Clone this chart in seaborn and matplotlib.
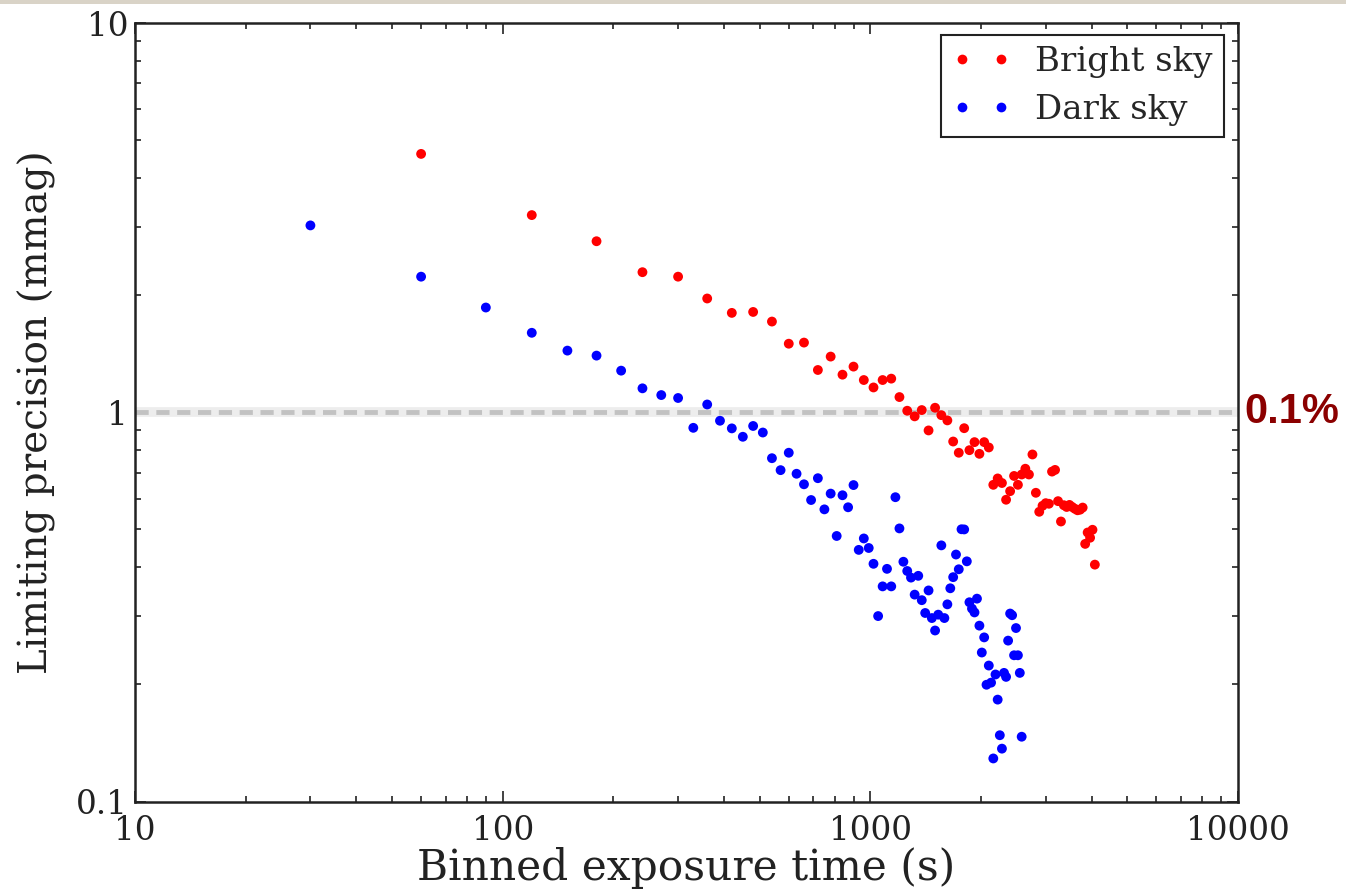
import matplotlib
matplotlib.use("Agg")
import matplotlib.pyplot as plt
import seaborn as sns
import pandas as pd
from matplotlib.lines import Line2D
from matplotlib.patches import Rectangle
from matplotlib.ticker import FixedLocator, FixedFormatter, LogLocator, NullFormatter

# ---------------- data ----------------
bright_time = [60, 120, 180, 240, 300, 360, 420, 480, 540, 600, 660, 720, 780, 840,
               900, 960, 1020, 1080, 1140, 1200, 1260, 1320, 1380, 1440, 1500, 1560,
               1620, 1680, 1740, 1800, 1860, 1920, 1980, 2040, 2100, 2160, 2220, 2280,
               2340, 2400, 2460, 2520, 2580, 2640, 2700, 2760, 2820, 2880, 2940, 3000,
               3060, 3120, 3180, 3240, 3300, 3360, 3420, 3480, 3540, 3600, 3660, 3720,
               3780, 3840, 3900, 3960, 4020, 4080]
bright_prec = [4.61, 3.21, 2.75, 2.29, 2.23, 1.96, 1.80, 1.81, 1.71, 1.50,
               1.51, 1.284, 1.39, 1.249, 1.31, 1.21, 1.158, 1.21, 1.22, 1.094,
               1.009, 0.976, 1.013, 0.898, 1.027, 0.983, 0.953, 0.841, 0.787, 0.910,
               0.799, 0.838, 0.782, 0.838, 0.812, 0.651, 0.676, 0.658, 0.596, 0.627,
               0.686, 0.651, 0.692, 0.716, 0.692, 0.779, 0.621, 0.555, 0.575, 0.584,
               0.582, 0.704, 0.711, 0.591, 0.524, 0.577, 0.571, 0.578, 0.571, 0.565,
               0.560, 0.562, 0.569, 0.459, 0.491, 0.476, 0.499, 0.406]

dark_time = [30, 60, 90, 120, 150, 180, 210, 240, 270, 300, 330, 360, 390, 420, 450,
             480, 510, 540, 570, 600, 630, 660, 690, 720, 750, 780, 810, 840, 870, 900,
             930, 960, 990, 1020, 1050, 1080, 1110, 1140, 1170, 1200, 1230, 1260, 1290,
             1320, 1350, 1380, 1410, 1440, 1470, 1500, 1530, 1560, 1590, 1620, 1650,
             1680, 1710, 1740, 1770, 1800, 1830, 1860, 1890, 1920, 1950, 1980, 2010,
             2040, 2070, 2100, 2130, 2160, 2190, 2220, 2250, 2280, 2310, 2340, 2370,
             2400, 2430, 2460, 2490, 2520, 2550, 2580]
dark_prec = [3.02, 2.23, 1.858, 1.60, 1.44, 1.398, 1.279, 1.152, 1.107, 1.088,
             0.912, 1.047, 0.951, 0.909, 0.865, 0.922, 0.887, 0.762, 0.710, 0.787,
             0.695, 0.653, 0.595, 0.677, 0.563, 0.618, 0.481, 0.612, 0.570, 0.650,
             0.443, 0.474, 0.448, 0.408, 0.2995, 0.357, 0.396, 0.357, 0.605, 0.503,
             0.413, 0.391, 0.376, 0.340, 0.380, 0.329, 0.305, 0.3485, 0.296, 0.275,
             0.302, 0.455, 0.296, 0.321, 0.353, 0.377, 0.431, 0.395, 0.5005, 0.50,
             0.414, 0.325, 0.313, 0.306, 0.332, 0.283, 0.2414, 0.264, 0.1995, 0.2235,
             0.202, 0.129, 0.212, 0.1827, 0.148, 0.1367, 0.214, 0.209, 0.259, 0.304,
             0.301, 0.2375, 0.279, 0.2375, 0.214, 0.1467]

series_names = ["Bright sky", "Dark sky"]
series_colors = ["#ff0000", "#0000ff"]

x_ticks = [10, 100, 1000, 10000]
x_ticklabels = ["10", "100", "1000", "10000"]
y_ticks = [0.1, 1, 10]
y_ticklabels = ["0.1", "1", "10"]
threshold = 1.0
threshold_label = "0.1%"

x_label = "Binned exposure time (s)"
y_label = "Limiting precision (mmag)"

# ---------------- figure ----------------
sns.set_style("ticks")
plt.rcParams["font.family"] = ["DejaVu Serif"]
plt.rcParams["lines.scale_dashes"] = False

fig = plt.figure(figsize=(13.46, 8.91), dpi=100)
fig.patch.set_facecolor("white")
fig.patches.append(Rectangle((0, 1 - 4 / 891), 1, 4 / 891, transform=fig.transFigure,
                             facecolor="#d9d3c7", edgecolor="none", zorder=0))

ax = fig.add_axes([135 / 1346, 1 - 801.5 / 891, (1238 - 135) / 1346, (801.5 - 23) / 891])

df = pd.DataFrame({
    "time": bright_time + dark_time,
    "prec": bright_prec + dark_prec,
    "sky": [series_names[0]] * len(bright_time) + [series_names[1]] * len(dark_time),
})

# threshold line (drawn beneath points)
ax.axhline(threshold, color="#ededed", lw=7, zorder=1)
ax.axhline(threshold, color="#c2c2c2", lw=3.5, dashes=(9.5, 5.5), zorder=1.5)

sns.scatterplot(data=df, x="time", y="prec", hue="sky",
                palette=dict(zip(series_names, series_colors)),
                s=50, linewidth=0, legend=False, ax=ax, zorder=3)

ax.set_xscale("log")
ax.set_yscale("log")
ax.set_xlim(10, 10000)
ax.set_ylim(0.1, 10)

ax.xaxis.set_major_locator(FixedLocator(x_ticks))
ax.xaxis.set_major_formatter(FixedFormatter(x_ticklabels))
ax.yaxis.set_major_locator(FixedLocator(y_ticks))
ax.yaxis.set_major_formatter(FixedFormatter(y_ticklabels))
ax.xaxis.set_minor_locator(LogLocator(base=10, subs=range(2, 10)))
ax.yaxis.set_minor_locator(LogLocator(base=10, subs=range(2, 10)))
ax.xaxis.set_minor_formatter(NullFormatter())
ax.yaxis.set_minor_formatter(NullFormatter())

ax.tick_params(which="both", direction="in", top=True, right=True, colors="#222222",
               labelcolor="#222222", width=1.2)
ax.tick_params(which="major", length=8, labelsize=23.5)
ax.tick_params(axis="x", which="major", pad=10)
ax.tick_params(axis="y", which="major", pad=5)
ax.tick_params(which="minor", length=4)
for sp in ax.spines.values():
    sp.set_visible(True)
    sp.set_linewidth(1.8)
    sp.set_color("#222222")

ax.set_xlabel(x_label, fontsize=30.5, color="#222222", labelpad=0)
ax.set_ylabel(y_label, fontsize=28, color="#222222")
ax.yaxis.set_label_coords(-0.072, 0.5)

handles = [Line2D([0], [0], marker="o", linestyle="none", markersize=7,
                  markerfacecolor=c, markeredgewidth=0, color=c) for c in series_colors]
leg = ax.legend(handles, series_names, loc="upper right", bbox_to_anchor=(0.987, 0.984),
                borderaxespad=0, numpoints=2, fontsize=24.5, frameon=True, fancybox=False,
                edgecolor="#222222", framealpha=1, borderpad=0.32, labelspacing=0.45,
                handlelength=1.75, handletextpad=0.7)
leg.get_frame().set_linewidth(1.5)

ax.text(1.006, threshold, threshold_label, transform=ax.get_yaxis_transform(),
        ha="left", va="center", fontsize=30, fontweight="bold", color="#8b0000",
        family=["Liberation Sans", "DejaVu Sans"])

fig.savefig("out.png", dpi=100, facecolor="white")
